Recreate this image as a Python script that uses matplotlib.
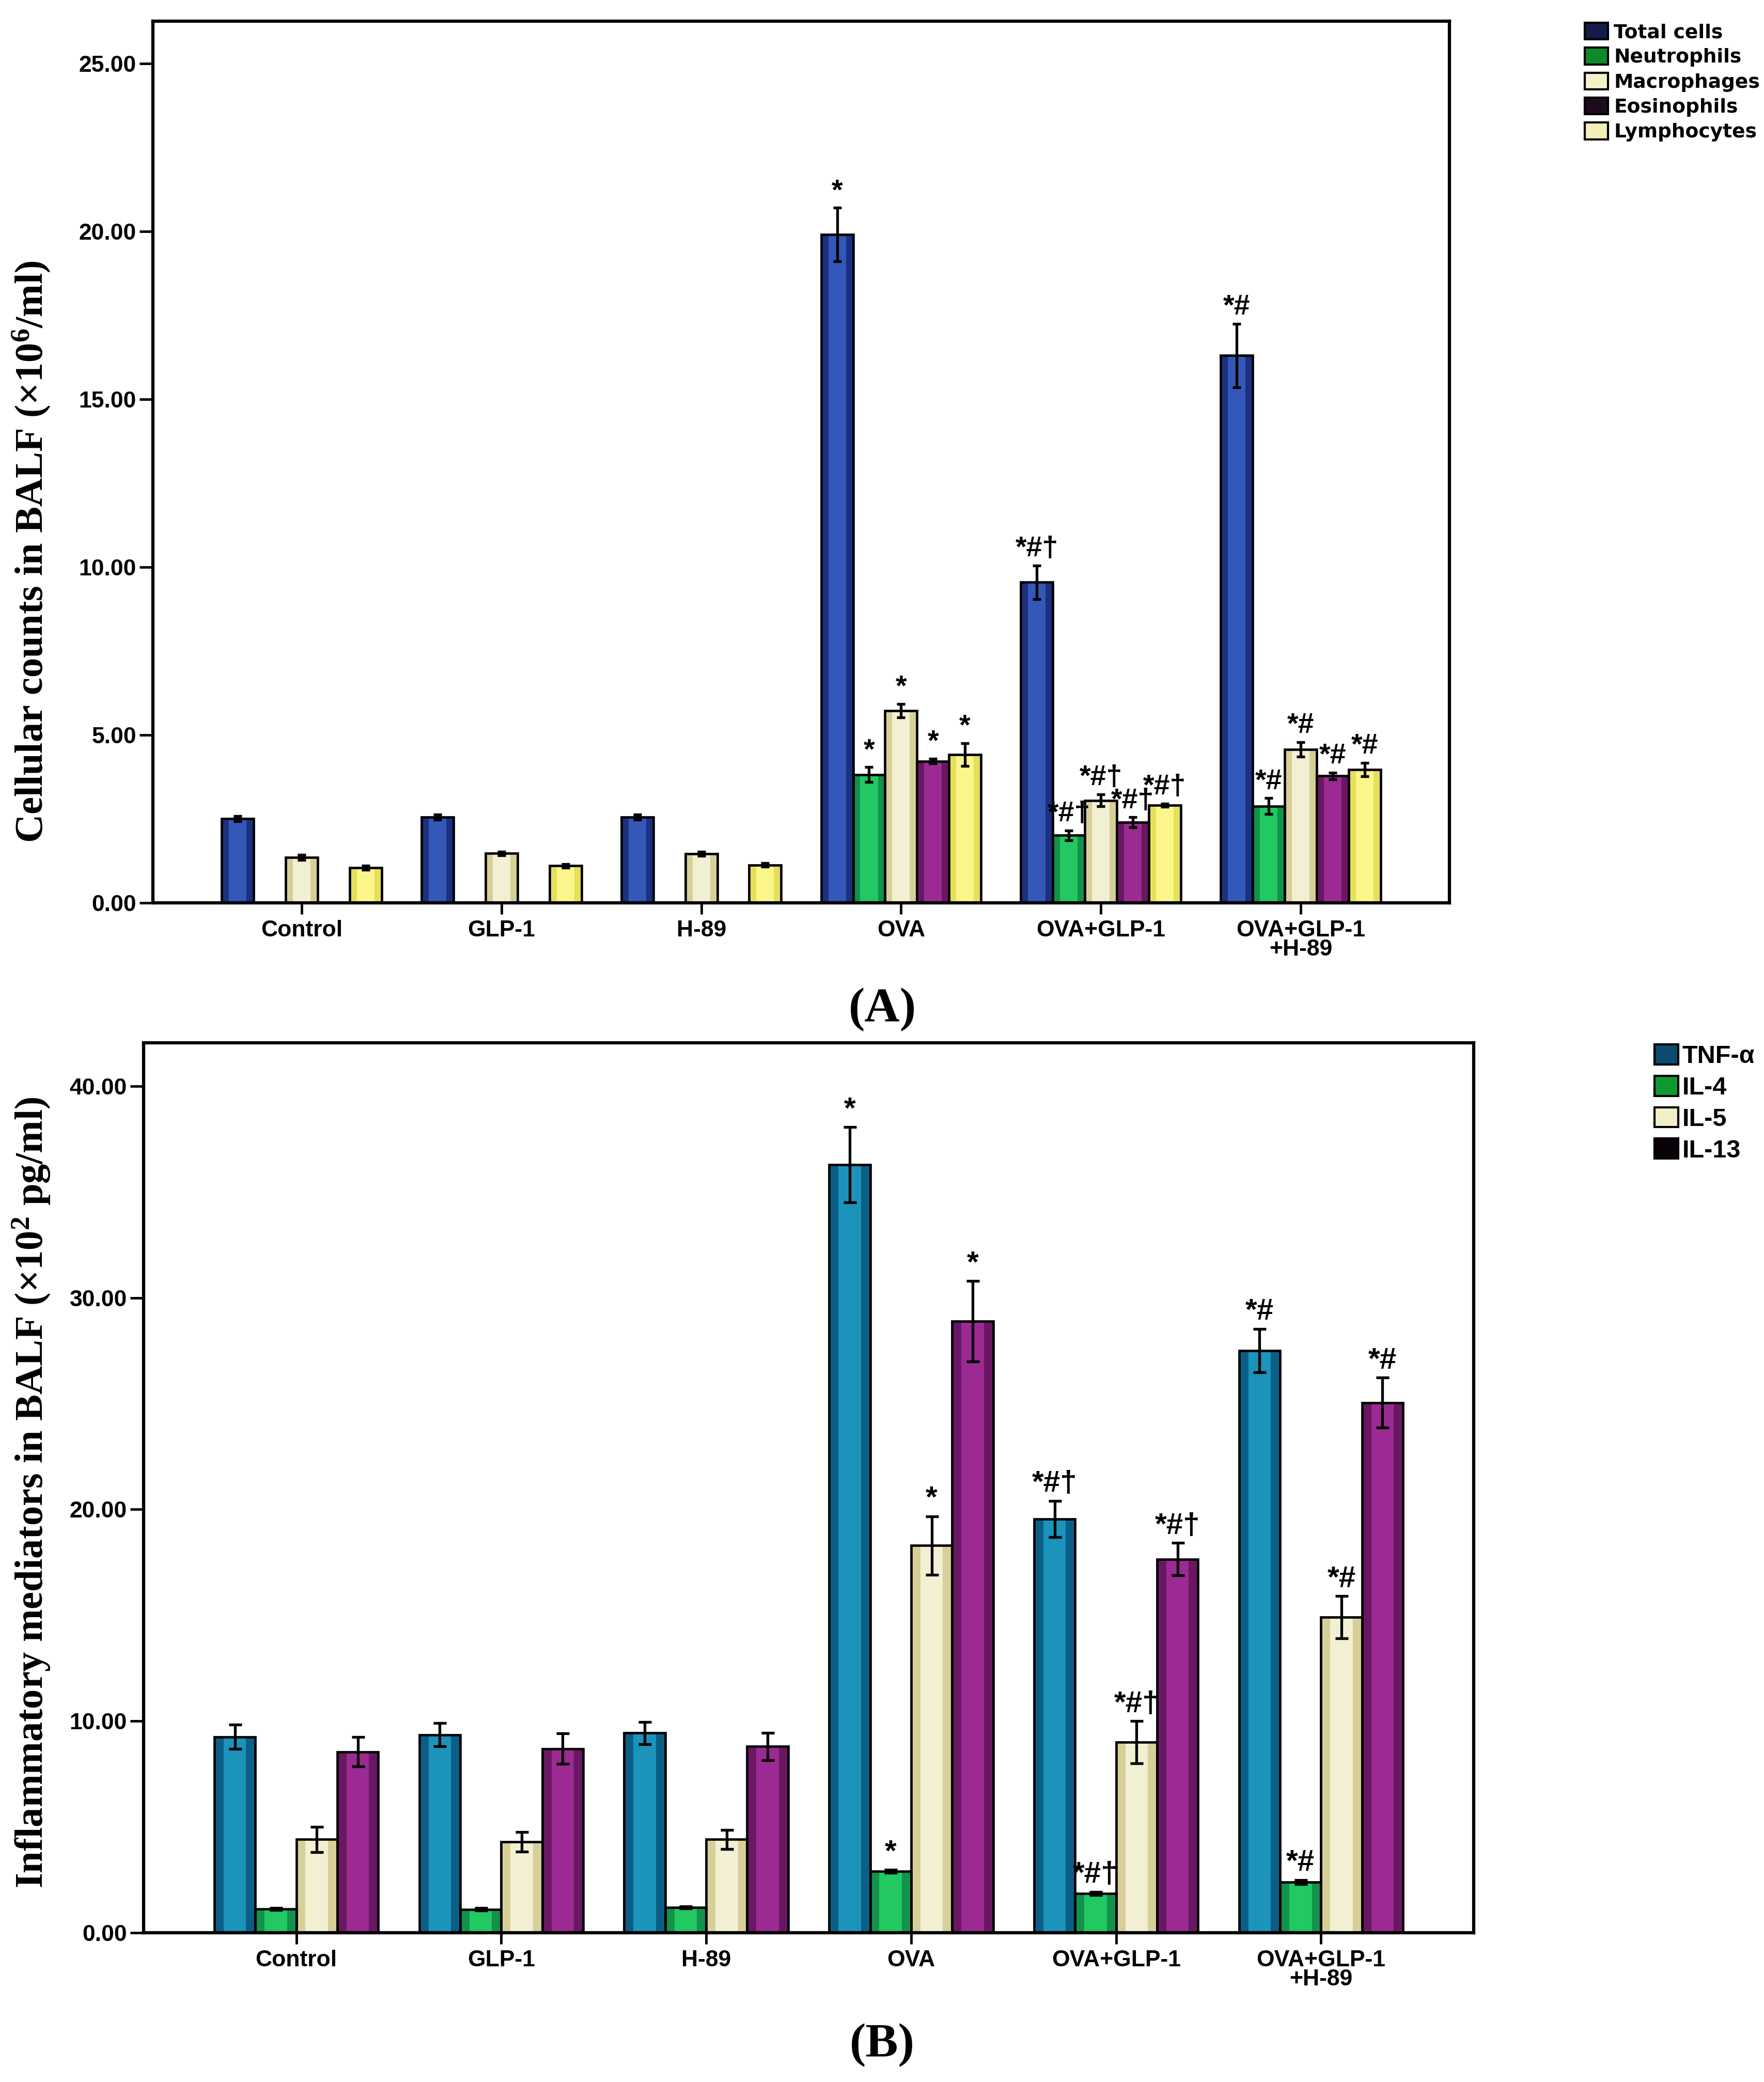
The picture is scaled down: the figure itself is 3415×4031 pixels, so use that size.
import numpy as np
import matplotlib.pyplot as plt
from matplotlib.patches import Patch

plt.rcParams['mathtext.default'] = 'regular'

groups = ['Control', 'GLP-1', 'H-89', 'OVA', 'OVA+GLP-1', 'OVA+GLP-1\n+H-89']
marks = ['', '', '', '*', '*#\u2020', '*#']

# panel A: cell counts (x10^6/ml)
cell_names = ['Total cells', 'Neutrophils', 'Macrophages', 'Eosinophils', 'Lymphocytes']
total = [2.51, 2.55, 2.55, 19.9, 9.55, 16.3]
total_err = [0.08, 0.08, 0.08, 0.8, 0.5, 0.95]
neut = [0, 0, 0, 3.82, 2.01, 2.88]
neut_err = [0, 0, 0, 0.22, 0.15, 0.24]
macro = [1.35, 1.47, 1.46, 5.73, 3.05, 4.57]
macro_err = [0.08, 0.06, 0.06, 0.2, 0.18, 0.22]
eos = [0, 0, 0, 4.22, 2.4, 3.78]
eos_err = [0, 0, 0, 0.07, 0.15, 0.1]
lymph = [1.05, 1.10, 1.13, 4.41, 2.91, 3.97]
lymph_err = [0.06, 0.06, 0.06, 0.34, 0.05, 0.2]

# panel B: mediators (x10^2 pg/ml)
med_names = ['TNF-\u03b1', 'IL-4', 'IL-5', 'IL-13']
tnf = [9.26, 9.35, 9.44, 36.3, 19.55, 27.5]
tnf_err = [0.58, 0.55, 0.52, 1.78, 0.86, 1.03]
il4 = [1.13, 1.11, 1.2, 2.9, 1.85, 2.4]
il4_err = [0.05, 0.05, 0.05, 0.08, 0.08, 0.1]
il5 = [4.41, 4.3, 4.41, 18.3, 9.0, 14.9]
il5_err = [0.6, 0.47, 0.45, 1.38, 1.0, 1.0]
il13 = [8.55, 8.7, 8.8, 28.9, 17.65, 25.05]
il13_err = [0.7, 0.72, 0.65, 1.9, 0.77, 1.18]

narrow = ['Liberation Sans Narrow', 'Liberation Sans', 'DejaVu Sans']
serif = ['Liberation Serif', 'DejaVu Serif']

W, H = 3415, 4031
fig = plt.figure(figsize=(W / 100, H / 100), dpi=100)
fig.patch.set_facecolor('white')


def draw_panel(ax, series, errs, dark, light, width, ymax, yticks, ann_size, capsize):
    x = np.arange(len(groups))
    n = len(series)
    for i, (vals, err) in enumerate(zip(series, errs)):
        vals = np.array(vals, float)
        err = np.array(err, float)
        xs = x + (i - (n - 1) / 2) * width
        ax.bar(xs, vals, width, color=dark[i], linewidth=0, zorder=2)
        ax.bar(xs, vals, width * 0.55, color=light[i], linewidth=0, zorder=2.1)
        ax.bar(xs, vals, width, fill=False, edgecolor='black', linewidth=3.4, zorder=2.2)
        keep = vals > 0
        ax.errorbar(xs[keep], vals[keep], yerr=err[keep], fmt='none', ecolor='black',
                    elinewidth=3.8, capsize=capsize, capthick=3.8, zorder=4)
        for j in np.where(keep)[0]:
            if marks[j]:
                ax.annotate(marks[j], (xs[j], vals[j] + err[j]), xytext=(0, 4),
                            textcoords='offset points', ha='center', va='bottom',
                            fontsize=ann_size, fontweight='bold', family=narrow, zorder=5)
    ax.set_xlim(-0.745, 5.745)
    ax.set_ylim(0, ymax)
    ax.set_yticks(yticks)
    ax.set_yticklabels(['%.2f' % v for v in yticks], fontsize=32, fontweight='bold', family=narrow)
    ax.set_xticks(x)
    ax.set_xticklabels(groups, fontsize=32, fontweight='bold', family=narrow, linespacing=0.85)
    ax.tick_params(axis='y', length=19, width=3.5, pad=4)
    ax.tick_params(axis='x', length=16, width=3.5, pad=8)
    for s in ax.spines.values():
        s.set_linewidth(4.5)
        s.set_color('black')


# panel A
axA = fig.add_axes([296 / W, 1 - 1748 / H, (2806 - 296) / W, (1748 - 41) / H])
dark_a = ['#1c3080', '#12924a', '#d6cf98', '#6a1763', '#e6df5a']
light_a = ['#3358b8', '#22c862', '#f2efd2', '#9b2a92', '#faf68a']
draw_panel(axA, [total, neut, macro, eos, lymph],
           [total_err, neut_err, macro_err, eos_err, lymph_err],
           dark_a, light_a, 0.16, 26.26, [0, 5, 10, 15, 20, 25], 40, 6)

leg_a = ['#141a4a', '#0e8a2e', '#f4f0c8', '#1e0a1e', '#f2f0b8']
hA = [Patch(facecolor=c, edgecolor='black', linewidth=3) for c in leg_a]
fig.legend(hA, cell_names, loc='upper left', bbox_to_anchor=(3068 / W, 1 - 44 / H),
           frameon=False, prop={'family': 'DejaVu Sans', 'weight': 'bold', 'size': 27},
           handlelength=1.2, handleheight=0.95, handletextpad=0.3, labelspacing=0.3,
           borderpad=0, borderaxespad=0)

fig.text(60 / W, 1 - 1068 / H, r'Cellular counts in BALF (×10$^{6}$/ml)', rotation=90,
         ha='center', va='center', fontsize=55, fontweight='bold', family=serif)
fig.text(1708 / W, 1 - 1955 / H, '(A)', ha='center', va='center', fontsize=68,
         fontweight='bold', family=serif)

# panel B
axB = fig.add_axes([278 / W, 1 - 3742 / H, (2853 - 278) / W, (3742 - 2019) / H])
dark_b = ['#0b5f86', '#12924a', '#d6cf98', '#6a1763']
light_b = ['#1b93bb', '#22c862', '#f2efd2', '#9b2a92']
draw_panel(axB, [tnf, il4, il5, il13], [tnf_err, il4_err, il5_err, il13_err],
           dark_b, light_b, 0.2, 42.05, [0, 10, 20, 30, 40], 42, 9)

leg_b = ['#0d4b6e', '#0e9a30', '#f2efc8', '#0a0208']
hB = [Patch(facecolor=c, edgecolor='black', linewidth=3) for c in leg_b]
fig.legend(hB, med_names, loc='upper left', bbox_to_anchor=(3203 / W, 1 - 2022 / H),
           frameon=False, prop={'family': narrow, 'weight': 'bold', 'size': 35},
           handlelength=0.95, handleheight=0.85, handletextpad=0.15, labelspacing=0.3,
           borderpad=0, borderaxespad=0)

fig.text(60 / W, 1 - 2890 / H, r'Inflammatory mediators in BALF (×10$^{2}$ pg/ml)', rotation=90,
         ha='center', va='center', fontsize=55, fontweight='bold', family=serif)
fig.text(1708 / W, 1 - 3960 / H, '(B)', ha='center', va='center', fontsize=68,
         fontweight='bold', family=serif)

fig.savefig('out.png', dpi=100, facecolor='white')
